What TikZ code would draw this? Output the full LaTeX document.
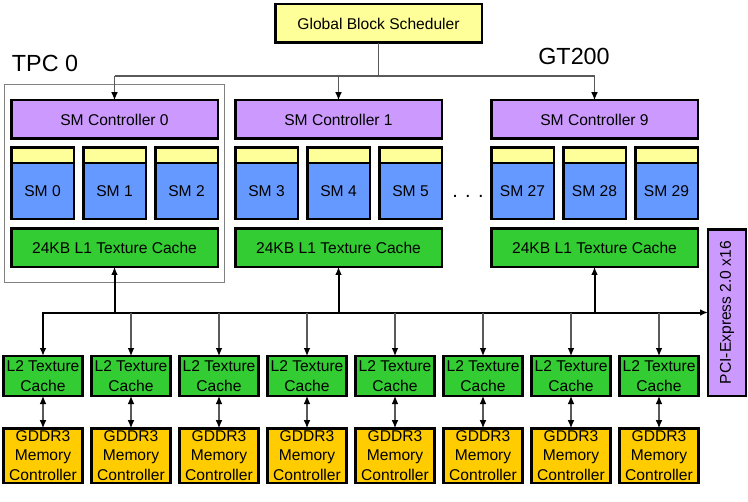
\documentclass[tikz,border=0pt]{standalone}
\usepackage{fontspec}
\setmainfont{Liberation Sans}
\usepackage{graphicx}
\usetikzlibrary{positioning, arrows.meta, fit}
\definecolor{schedYellow}{HTML}{FFFF99}
\definecolor{ctrlPurple}{HTML}{CC99FF}
\definecolor{smBlue}{HTML}{6699FF}
\definecolor{cacheGreen}{HTML}{33CC33}
\definecolor{memOrange}{HTML}{FFCC00}
\tikzset{
  unitBox/.style={draw, line width=2pt, outer sep=0pt, inner sep=0pt, align=center, font=\fontsize{11.7}{14.7}\selectfont},
  wideBox/.style={unitBox, minimum width=155pt, minimum height=29pt},
  smBox/.style={unitBox, fill=smBlue, minimum width=47pt, minimum height=42pt},
  stripBox/.style={unitBox, fill=schedYellow, minimum width=47pt, minimum height=11.5pt},
  smallBox/.style={unitBox, minimum width=59pt},
  thinLine/.style={draw=black!65, line width=0.8pt},
  busLine/.style={draw=black, line width=1.5pt},
  arrowTip/.style={-{Latex[length=6pt, width=5pt, color=black]}},
}

\begin{document}
\begin{tikzpicture}[x=0.75pt, y=-0.75pt]
\useasboundingbox (0,0) rectangle (748,502);

\node (sched) [wideBox, fill=schedYellow] at (378.5, 23.5) {Global Block Scheduler};

% three TPCs shown
\foreach \tpc/\xo/\smA/\smB/\smC in {0/10/0/1/2, 1/234/3/4/5, 9/490/27/28/29} {
  \node (smCtrl\tpc) [wideBox, fill=ctrlPurple] at (\xo+104.5, 119.5) {SM Controller \tpc};
  \foreach \s [count=\i from 0] in {\smA,\smB,\smC} {
    \node (sm\s) [smBox] at (\xo+32.5+72*\i, 191) {SM \s};
    \node (smTop\s) [stripBox, above=0pt of sm\s] {};
  }
  \node (l1Cache\tpc) [wideBox, fill=cacheGreen] at (\xo+104.5, 247.5) {24KB L1 Texture Cache};
}

\node (tpcFrame) [fit={(smCtrl0) (l1Cache0)}, draw=gray, line width=0.75pt, inner xsep=5.25pt, inner ysep=12pt] {};
\node (tpcLabel) [font=\fontsize{17.5}{21}\selectfont] at (45,63.5) {TPC 0};
\node (gtLabel) [font=\fontsize{17.5}{21}\selectfont] at (574,56) {GT200};
\node (dots) [font=\fontsize{15}{18}\selectfont] at (468,196) {. . .};

\node (pciExp) [unitBox, fill=ctrlPurple, minimum width=28.5pt, minimum height=125pt] at (727, 312.5) {\rotatebox{90}{PCI-Express 2.0 x16}};

% memory partitions
\foreach \k in {0,...,7} {
  \node (l2Cache\k) [smallBox, fill=cacheGreen, minimum height=30pt] at (43+88*\k, 376) {L2 Texture\\Cache};
  \node (gddr\k) [smallBox, fill=memOrange, minimum height=41pt] at (43+88*\k, 455.5) {GDDR3\\Memory\\Controller};
  \draw[thinLine, {Latex[length=6pt, width=5pt, color=black]}-{Latex[length=6pt, width=5pt, color=black]}] (l2Cache\k) -- (gddr\k);
}

% scheduler fan-out
\coordinate (schedBus) at (379,76);
\draw[thinLine] (sched.south) -- (sched.south |- schedBus);
\draw[thinLine] (smCtrl0.north |- schedBus) -- (smCtrl9.north |- schedBus);
\foreach \tpc in {0,1,9}
  \draw[thinLine, arrowTip] (smCtrl\tpc.north |- schedBus) -- (smCtrl\tpc.north);

% interconnect
\draw[busLine, {Latex[length=6pt, width=5pt]}-{Latex[length=6pt, width=5pt]}] (l2Cache0.north) |- (pciExp.west);
\foreach \tpc in {0,1,9}
  \draw[busLine, arrowTip] (l1Cache\tpc.south |- pciExp.west) -- (l1Cache\tpc.south);
\foreach \k in {1,...,7}
  \draw[thinLine, arrowTip] (l2Cache\k.north |- pciExp.west) -- (l2Cache\k.north);

\end{tikzpicture}
\end{document}
